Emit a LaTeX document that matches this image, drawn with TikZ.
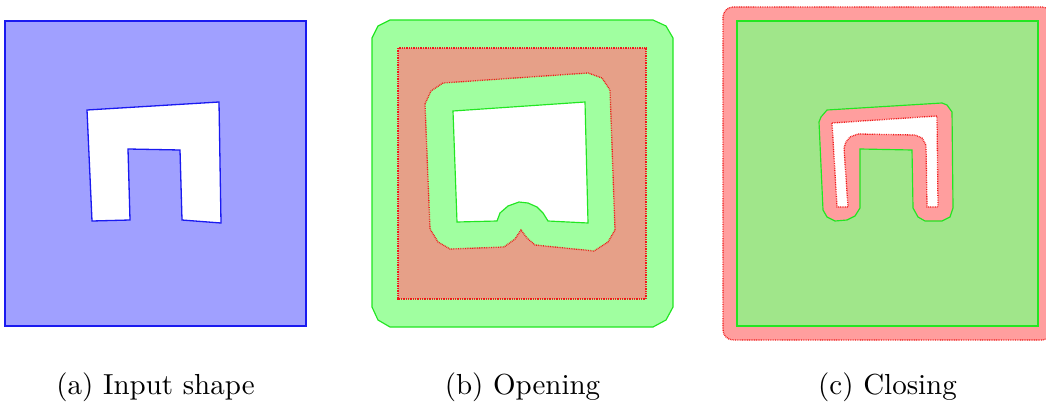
\documentclass[tikz,border=0pt]{standalone}
\usetikzlibrary{positioning}
\definecolor{inblue}{HTML}{A0A0FF}
\definecolor{lnblue}{HTML}{1A1AF0}
\definecolor{opgreen}{HTML}{A0FFA0}
\definecolor{lngreen}{HTML}{22E622}
\definecolor{opbrown}{HTML}{E6A088}
\definecolor{clred}{HTML}{FF9E9E}
\definecolor{clgreen}{HTML}{A0E68A}
\definecolor{lnred}{HTML}{F01A1A}

\begin{document}
\begin{tikzpicture}[
    x=0.345pt, y=-0.345pt,
    every node/.style={font=\normalsize},
  ]

  % Frame
  \useasboundingbox (0,0) rectangle (1046,407);

  % Styles
  \tikzset{
    blueshape/.style={fill=inblue, draw=lnblue, line width=0.45pt},
    greenshape/.style={draw=lngreen, line width=0.4pt},
    redshape/.style={draw=lnred, line width=0.45pt,
      dash pattern=on 0.3pt off 0.3pt},
  }

  % (a) Input shape
  \path[blueshape] (5,21) rectangle (306,326);
  \path[blueshape, fill=white] (87,110) -- (219,102) -- (221,223) -- (182,220)
    -- (180,150) -- (128,149) -- (130,220) -- (92,221) -- cycle;

  % (b) Opening: outer dilated border
  \path[greenshape, fill=opgreen] (372,38) -- (378,26) -- (390,20) -- (653,20)
    -- (666,26) -- (673,38) -- (673,307) -- (666,320) -- (653,327)
    -- (390,327) -- (378,320) -- (372,307) -- cycle;
  % eroded square
  \path[redshape, fill=opbrown] (398,48) rectangle (646,299);
  % eroded hole
  \path[redshape, fill=opgreen] (425,104) -- (431,91) -- (443,83) -- (588,73)
    -- (602,78) -- (610,90) -- (615,230) -- (608,242) -- (594,251)
    -- (535,245) -- (527,238) -- (521,230) -- (515,239) -- (504,247)
    -- (450,249) -- (438,242) -- (430,229) -- cycle;
  % opened hole
  \path[greenshape, fill=white] (453,111) -- (585,102) -- (588,223)
    -- (548,221) -- (543,213) -- (537,207) -- (528,203) -- (519,202)
    -- (508,206) -- (500,213) -- (497,221) -- (457,222) -- cycle;

  % (c) Closing: dilated border
  \path[redshape, fill=clred, rounded corners=3.5pt] (723,7) rectangle (1052,340);
  % closed square
  \path[greenshape, fill=clgreen] (737,21) rectangle (1038,326);
  % closed hole
  \path[greenshape, fill=clred] (821,117) -- (827,110) -- (942,103)
    -- (947,105) -- (952,112) -- (953,208) -- (950,217) -- (942,221)
    -- (925,221) -- (918,217) -- (913,208) -- (912,150) -- (860,149)
    -- (860,208) -- (855,216) -- (847,220) -- (835,221) -- (827,217)
    -- (823,210) -- (819,122) -- cycle;
  % dilated hole
  \path[redshape, fill=white] (832,123) -- (937,116) -- (938,207)
    -- (927,207) -- (926,145) -- (922,138) -- (915,135) -- (858,134)
    -- (850,137) -- (846,142) -- (844,148) -- (848,207) -- (837,207) -- cycle;

  % Captions
  \node[anchor=base] (capa) at (155.5,394) {(a) Input shape};
  \node[anchor=base] (capb) at (522.5,394) {(b) Opening};
  \node[anchor=base] (capc) at (887.5,394) {(c) Closing};

\end{tikzpicture}
\end{document}
